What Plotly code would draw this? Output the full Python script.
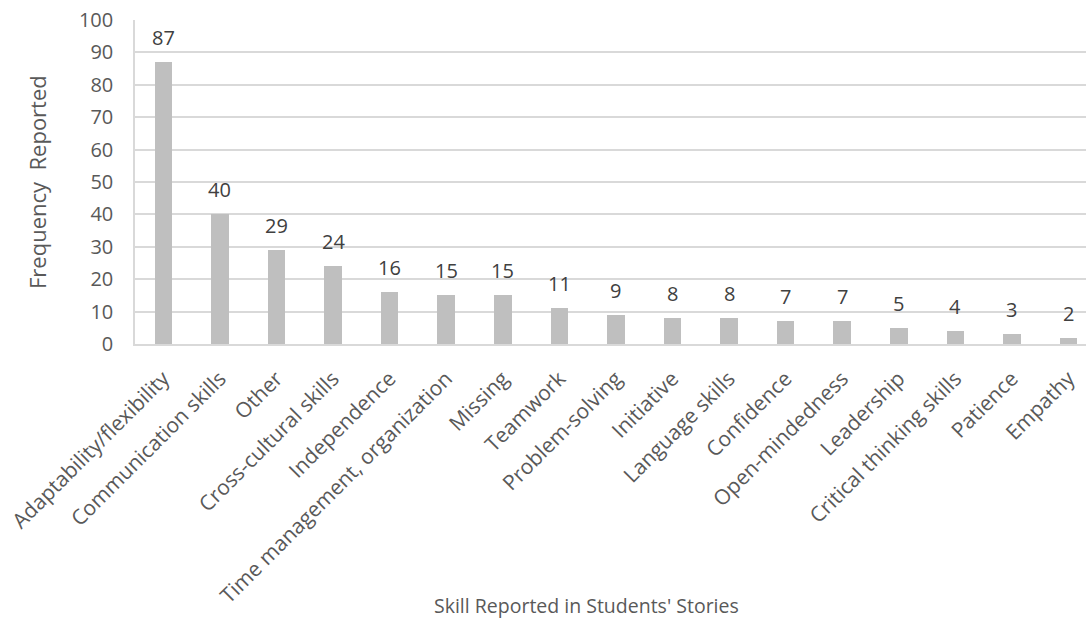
import plotly.graph_objects as go

skills = [
    "Adaptability/flexibility", "Communication skills", "Other",
    "Cross-cultural skills", "Independence", "Time management, organization",
    "Missing", "Teamwork", "Problem-solving", "Initiative", "Language skills",
    "Confidence", "Open-mindedness", "Leadership", "Critical thinking skills",
    "Patience", "Empathy",
]
frequency = [87, 40, 29, 24, 16, 15, 15, 11, 9, 8, 8, 7, 7, 5, 4, 3, 2]
y_ticks = [0, 10, 20, 30, 40, 50, 60, 70, 80, 90, 100]

FONT = "Open Sans"
TEXT = "#595959"
GRID = "#D9D9D9"

positions = list(range(len(skills)))

fig = go.Figure(
    go.Bar(
        x=positions,
        y=frequency,
        width=0.31,
        marker=dict(color="#BFBFBF", line=dict(width=0)),
        hoverinfo="x+y",
    )
)

# value labels above each bar
for xi, v in zip(positions, frequency):
    fig.add_annotation(
        x=xi, y=v, text=str(v), showarrow=False,
        xanchor="center", yanchor="bottom", yshift=9,
        font=dict(family=FONT, size=20, color="#404040"),
    )

fig.update_layout(
    width=1086,
    height=643,
    margin=dict(l=135, r=0, t=20, b=299),
    paper_bgcolor="white",
    plot_bgcolor="white",
    showlegend=False,
    font=dict(family=FONT, size=20, color=TEXT),
    bargap=0,
)

fig.update_xaxes(
    range=[-0.5, 16.31],
    tickmode="array",
    tickvals=positions,
    ticktext=skills,
    tickangle=-45,
    tickfont=dict(family=FONT, size=21, color=TEXT),
    ticklabelstandoff=12,
    showgrid=False,
    showline=True,
    linecolor=GRID,
    linewidth=2,
    ticks="",
)

fig.update_yaxes(
    range=[0, 100],
    tickmode="array",
    tickvals=y_ticks,
    tickfont=dict(family=FONT, size=20, color=TEXT),
    showgrid=True,
    gridcolor=GRID,
    gridwidth=1.5,
    showline=True,
    linecolor=GRID,
    linewidth=1.5,
    zeroline=False,
    ticks="outside",
    ticklen=16,
    tickcolor="rgba(0,0,0,0)",
)

fig.add_annotation(
    text="Frequency  Reported", xref="paper", yref="paper",
    x=-(135 - 37) / 951, y=0.5, textangle=-90, showarrow=False,
    font=dict(family=FONT, size=22, color=TEXT),
    xanchor="center", yanchor="middle",
)
fig.add_annotation(
    text="Skill Reported in Students' Stories", xref="paper", yref="paper",
    x=(586 - 135) / 951, y=-(605 - 344) / 324, showarrow=False,
    font=dict(family=FONT, size=19.5, color=TEXT),
    xanchor="center", yanchor="middle",
)

fig.write_html("out.html")
